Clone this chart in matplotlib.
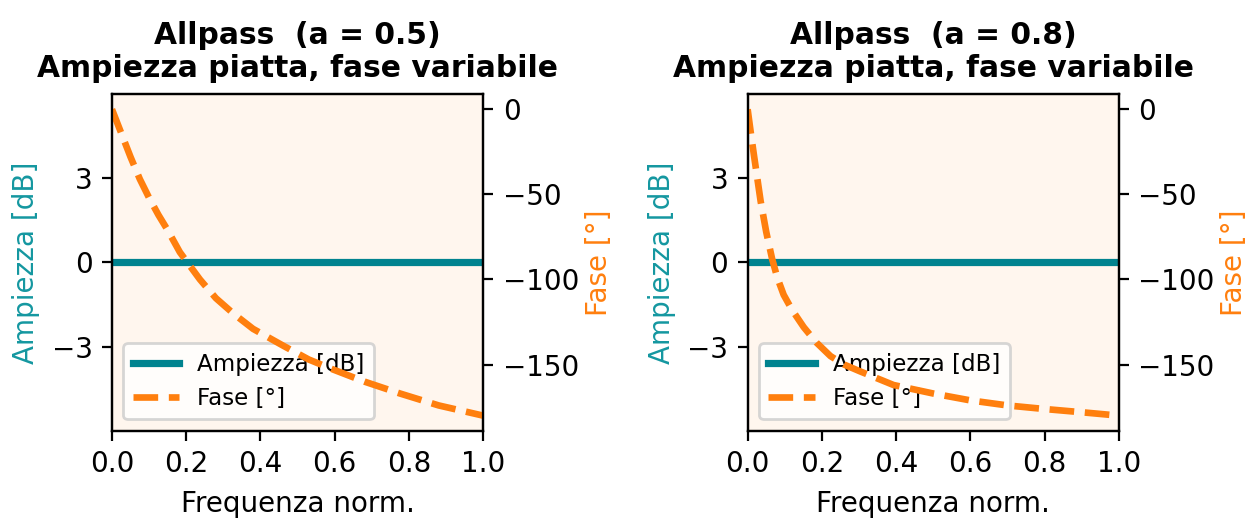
import numpy as np
import matplotlib
matplotlib.use('Agg')
import matplotlib.pyplot as plt

# valori
a_vals = [0.5, 0.8]

freq_05 = [0.0, 0.025, 0.05, 0.075, 0.10, 0.125, 0.15, 0.183, 0.21, 0.237,
           0.28, 0.327, 0.38, 0.462, 0.53, 0.597, 0.68, 0.776, 0.88, 1.0]
fase_05 = [0, -14, -28, -41, -52, -62, -71, -84, -92, -100,
           -111, -120, -129, -139, -147, -153, -160, -167, -174, -180]

freq_08 = [0.0, 0.008, 0.017, 0.025, 0.035, 0.05, 0.066, 0.08, 0.097, 0.12,
           0.151, 0.185, 0.223, 0.26, 0.303, 0.393, 0.5, 0.599, 0.7, 0.795,
           0.9, 1.0]
fase_08 = [0, -13, -27, -39, -54, -72, -88, -99, -109, -118,
           -128, -137, -145, -150, -154, -162, -167, -171, -174, -176,
           -178, -180]

amp_freq = [0.0, 1.0]
amp_db = [0.0, 0.0]

freqs = [freq_05, freq_08]
fasi = [fase_05, fase_08]

teal = '#00838F'
teal_lbl = '#1497a0'
orange = '#FF7F0E'

fig, axes = plt.subplots(1, 2, figsize=(6.24, 2.595), dpi=200)
fig.subplots_adjust(left=0.0897, right=0.8966, top=0.819, bottom=0.1696, wspace=0.712)

for ax, a, fr, fa in zip(axes, a_vals, freqs, fasi):
    ax.set_facecolor('#fff6ee')
    l1, = ax.plot(amp_freq, amp_db, color=teal, lw=2.6, label='Ampiezza [dB]')
    ax.set_ylim(-6, 6)
    ax.set_yticks([-3, 0, 3])
    ax.set_xlim(0, 1)
    ax.set_xticks([0.0, 0.2, 0.4, 0.6, 0.8, 1.0])
    ax.set_ylabel('Ampiezza [dB]', color=teal_lbl)
    ax.set_xlabel('Frequenza norm.')
    ax.set_title('Allpass  (a = %s)\nAmpiezza piatta, fase variabile' % a,
                 fontsize=10.7, fontweight='bold')

    ax2 = ax.twinx()
    l2, = ax2.plot(fr, fa, '--', color=orange, lw=2.4, label='Fase [°]')
    ax2.set_ylabel('Fase [°]', color=orange, labelpad=2)
    ax2.set_yticks([0, -50, -100, -150])

    ax.legend([l1, l2], ['Ampiezza [dB]', 'Fase [°]'], loc='lower left',
              fontsize=8.3)

fig.savefig('out.png', dpi=200)
